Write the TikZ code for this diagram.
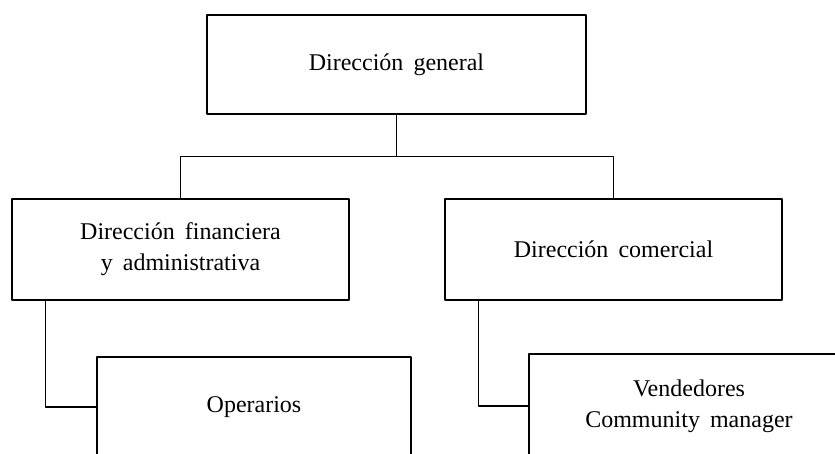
\documentclass[tikz,border=0pt]{standalone}
\usepackage{fontspec}
\setmainfont{Liberation Serif}
\usetikzlibrary{positioning}
\newcommand{\letracaja}{\fontsize{24}{31}\selectfont\spaceskip=0.42em\relax}
\begin{document}
\begin{tikzpicture}[x=1pt,y=1pt,line join=round,
  caja/.style={draw,line width=1.4pt,align=center,inner sep=0pt,font=\letracaja},
  enlace/.style={line width=1.4pt}]
  \useasboundingbox (0,0) rectangle (835,453);
  \clip (0,0) rectangle (835,453);
  %%Cajas del organigrama
  \node[caja,minimum width=379pt,minimum height=99pt] (general) at (396.5,388.5) {Dirección general};
  \node[caja,minimum width=337pt,minimum height=101pt] (financiera) at (180.5,203.5) {Dirección financiera\\y administrativa};
  \node[caja,minimum width=337pt,minimum height=101pt] (comercial) at (613.5,203.5) {Dirección comercial};
  \node[caja,minimum width=314pt,minimum height=100pt] (operarios) at (254,46) {Operarios};
  \node[caja,minimum width=320pt,minimum height=104pt] (vendedores) at (689,47) {Vendedores\\Community manager};
  %%Enlaces
  \coordinate (nudo) at ([yshift=-42pt]general.south);
  \draw[enlace] (general.south)--(nudo) (nudo)-|(financiera.north) (nudo)-|(comercial.north);
  \draw[enlace] ([xshift=34pt]financiera.south west)|-(operarios.west);
  \draw[enlace] ([xshift=34pt]comercial.south west)|-(vendedores.west);
\end{tikzpicture}
\end{document}
